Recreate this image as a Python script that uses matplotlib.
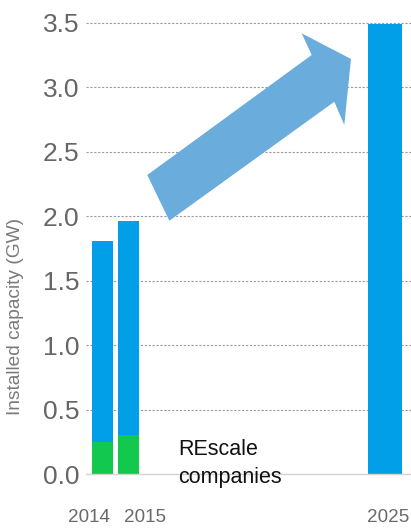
import matplotlib
matplotlib.use("Agg")
import matplotlib.pyplot as plt
from matplotlib.patches import Polygon

plt.rcParams["font.family"] = ["Liberation Sans", "DejaVu Sans"]

# Installed capacity (GW) by year
years = ["2014", "2015", "2025"]
total_gw = [1.81, 1.96, 3.49]
rescale_gw = [0.25, 0.30, 0.0]
y_ticks = [0.0, 0.5, 1.0, 1.5, 2.0, 2.5, 3.0, 3.5]

# layout of the bar slots (x units) and their widths
bar_pos = [0.0, 1.0, 10.62]
bar_width = [0.79, 0.79, 1.29]
label_pos = [-0.50, 1.61, 10.74]

BLUE = "#019fe8"
GREEN = "#13c84f"
ARROW = "#6aacdc"

fig = plt.figure(figsize=(4.11, 5.28), dpi=100)
ax = fig.add_axes([86 / 411, 54 / 528, 325 / 411, 464 / 528])

other_gw = [t - r for t, r in zip(total_gw, rescale_gw)]
ax.bar(bar_pos, rescale_gw, width=bar_width, color=GREEN, zorder=2)
ax.bar(bar_pos, other_gw, bottom=rescale_gw, width=bar_width, color=BLUE, zorder=2)

ax.set_xlim(-0.61, 11.61)
ax.set_ylim(0, 3.6)

ax.set_yticks(y_ticks)
ax.set_yticklabels([f"{v:.1f}" for v in y_ticks])
ax.tick_params(axis="y", length=0, pad=5, labelsize=19, labelcolor="#666666")
ax.set_xticks(label_pos)
ax.set_xticklabels(years)
ax.tick_params(axis="x", length=0, pad=25, labelsize=13.6, labelcolor="#6a6a6a")

ax.yaxis.grid(True, color="#9a9a9a", linestyle=(0, (2, 1.5)), linewidth=0.8, zorder=0)
ax.set_axisbelow(True)

for side in ("top", "right", "left"):
    ax.spines[side].set_visible(False)
ax.spines["bottom"].set_color("#d4d4d4")
ax.spines["bottom"].set_linewidth(1.0)

ax.set_ylabel("Installed capacity (GW)", fontsize=13.8, color="#7a7a7a")
ax.yaxis.set_label_coords(-0.19, 0.34)

# growth arrow from the 2015 level towards 2025
arrow_outline = [
    (1.695, 2.320), (7.876, 3.251), (7.500, 3.419), (9.353, 3.220),
    (9.102, 2.708), (8.726, 2.888), (2.523, 1.965),
]
ax.add_patch(Polygon(arrow_outline, closed=True, facecolor=ARROW,
                     edgecolor="none", zorder=3))

ax.text(2.85, 0.27, "REscale\ncompanies", fontsize=15.5, color="#111111",
        ha="left", va="top", linespacing=1.45, zorder=4)

fig.savefig("out.png", dpi=100)
